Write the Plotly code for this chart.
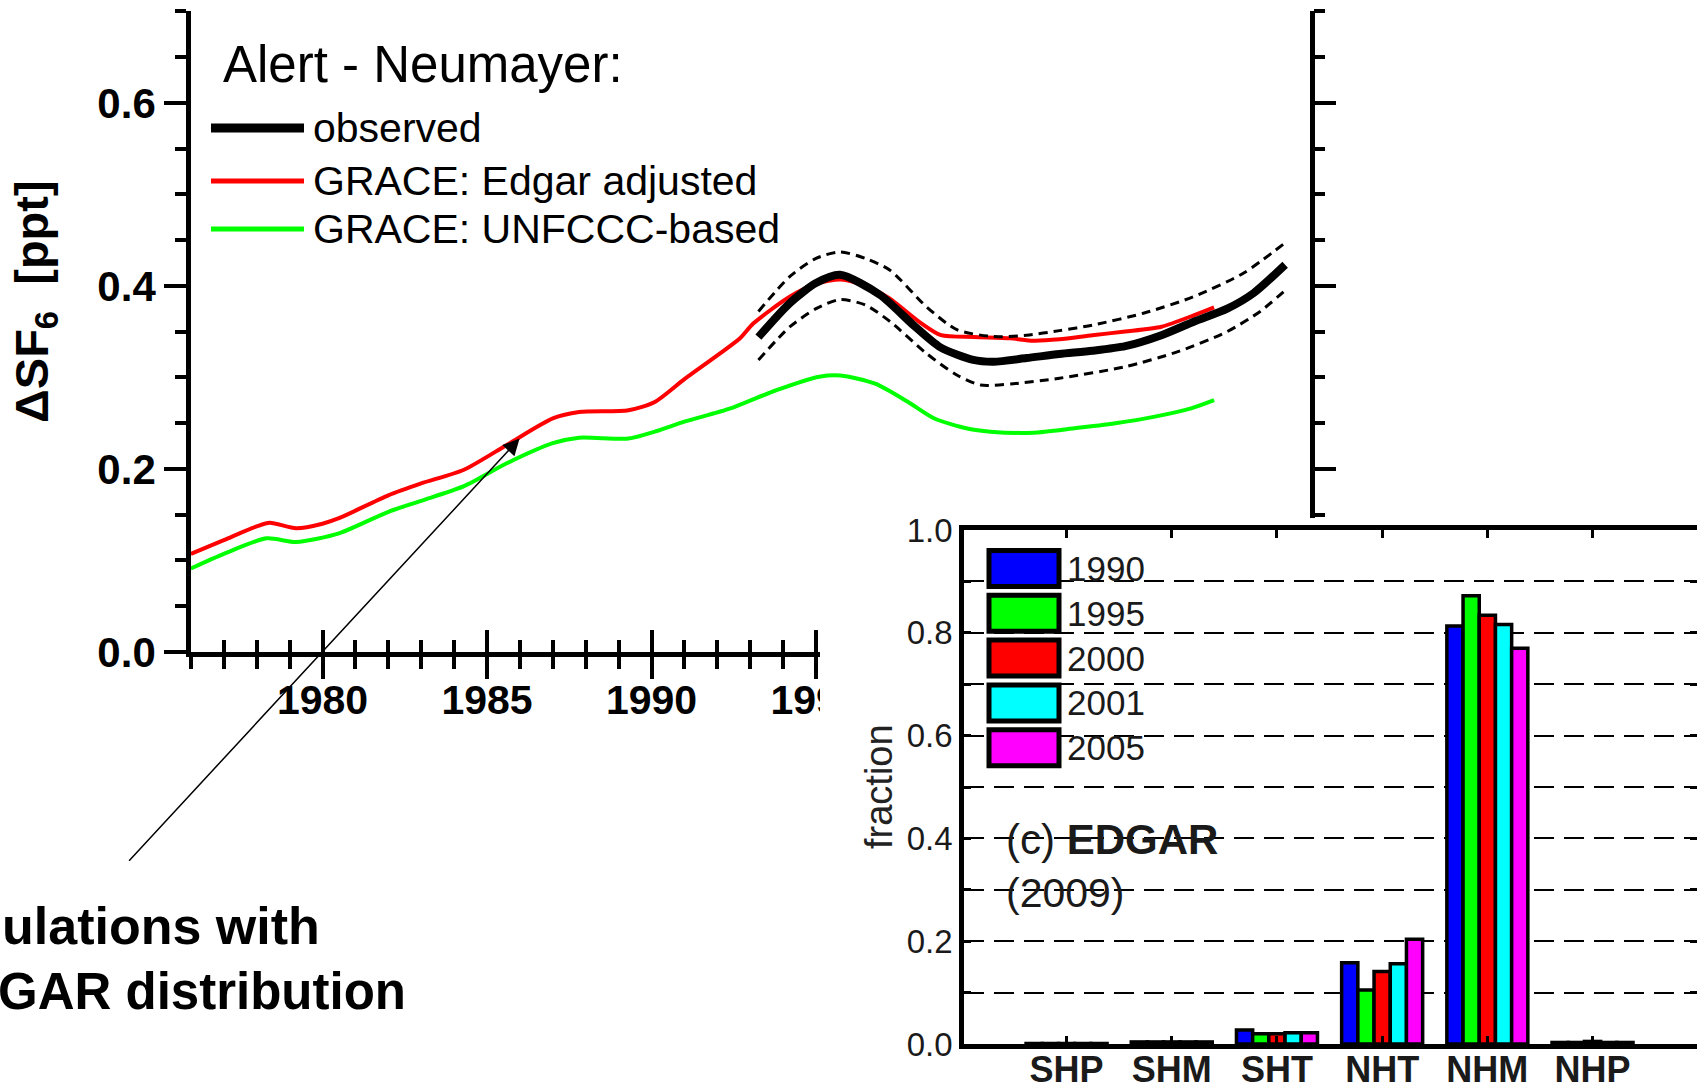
import plotly.graph_objects as go

# ---------------- main chart data (Alert - Neumayer, ΔSF6 [ppt]) ----------------
red_years = [1976, 1977, 1978, 1978.4, 1979.2, 1980, 1980.5, 1982, 1983, 1984.3, 1985.6, 1987,
             1987.8, 1989.3, 1990.1, 1991, 1992, 1992.7, 1993.1, 1994.2, 1995, 1995.75, 1996.5,
             1997.2, 1998.2, 1998.8, 1999.8, 2000.9, 2001.6, 2002.4, 2003.4, 2004.4, 2005.5,
             2006.5, 2007.1]
red_vals = [0.107, 0.122, 0.137, 0.141, 0.135, 0.140, 0.146, 0.171, 0.184, 0.199, 0.226, 0.255,
            0.262, 0.264, 0.273, 0.298, 0.324, 0.343, 0.359, 0.388, 0.402, 0.407, 0.400,
            0.387, 0.359, 0.346, 0.344, 0.3426, 0.340, 0.3415, 0.346, 0.350, 0.3553,
            0.368, 0.3765]

green_years = [1976, 1977, 1978.3, 1979.2, 1980.5, 1982, 1983, 1984.3, 1985.6, 1987, 1987.8,
               1989.3, 1990.1, 1991, 1992.4, 1993.8, 1995.1, 1995.75, 1996.8, 1997.8, 1998.6,
               1999.6, 2000.3, 2001.6, 2002.8, 2004.1, 2005.3, 2006.4, 2007.1]
green_vals = [0.091, 0.107, 0.124, 0.120, 0.1295, 0.153, 0.165, 0.181, 0.206, 0.228, 0.234,
              0.233, 0.2406, 0.2515, 0.266, 0.286, 0.3007, 0.302, 0.293, 0.273, 0.255,
              0.244, 0.2406, 0.2395, 0.244, 0.2497, 0.257, 0.266, 0.275]

obs_years = [1993.25, 1994.2, 1995.0, 1995.73, 1996.95, 1997.96, 1998.77, 1999.78, 2000.4,
             2001.4, 2002.4, 2003.4, 2004.4, 2005.5, 2006.5, 2007.5, 2008.3, 2009.26]
obs_vals = [0.344, 0.381, 0.403, 0.412, 0.390, 0.357, 0.333, 0.319, 0.317,
            0.321, 0.3255, 0.329, 0.334, 0.346, 0.361, 0.375, 0.392, 0.423]

upper_years = [1993.25, 1994.2, 1995.0, 1995.73, 1996.5, 1997.25, 1998.36, 1999.28, 2000.4,
               2001.4, 2002.4, 2003.4, 2004.95, 2006.47, 2008.0, 2009.26]
upper_vals = [0.372, 0.410, 0.430, 0.437, 0.430, 0.417, 0.377, 0.352, 0.3445,
              0.346, 0.351, 0.357, 0.370, 0.388, 0.414, 0.447]

lower_years = [1993.25, 1994.2, 1995.0, 1995.73, 1996.5, 1997.25, 1998.36, 1999.28, 2000.0,
               2001.0, 2002.4, 2004.4, 2006.0, 2007.5, 2008.5, 2009.26]
lower_vals = [0.319, 0.355, 0.375, 0.385, 0.379, 0.361, 0.326, 0.3025, 0.2916,
              0.293, 0.299, 0.3116, 0.328, 0.350, 0.372, 0.395]

legend_title = "Alert - Neumayer:"
series_names = ["observed", "GRACE: Edgar adjusted", "GRACE: UNFCCC-based"]
series_colors = ["#000000", "#ff0000", "#00ff00"]
series_widths = [8, 4, 4]

main_year_ticks = [1980, 1985, 1990, 1995]

# ---------------- inset data (fraction of emissions per latitude band) ----------------
regions = ["SHP", "SHM", "SHT", "NHT", "NHM", "NHP"]
bar_years = ["1990", "1995", "2000", "2001", "2005"]
bar_colors = ["#0000ff", "#00ff00", "#ff0000", "#00ffff", "#ff00ff"]
frac_1990 = [0.001, 0.004, 0.027, 0.158, 0.813, 0.003]
frac_1995 = [0.001, 0.004, 0.020, 0.105, 0.872, 0.003]
frac_2000 = [0.001, 0.004, 0.020, 0.141, 0.834, 0.005]
frac_2001 = [0.001, 0.004, 0.022, 0.156, 0.816, 0.003]
frac_2005 = [0.001, 0.004, 0.022, 0.204, 0.770, 0.003]
fractions = [frac_1990, frac_1995, frac_2000, frac_2001, frac_2005]

W, H = 1697, 1088
def PX(x):
    return x / W
def PY(y):
    return 1 - y / H

FONT = "Arial, 'Liberation Sans', Helvetica, sans-serif"

fig = go.Figure()

# main model curves (xy)
fig.add_trace(go.Scatter(x=red_years, y=red_vals, mode="lines", name=series_names[1],
                         line=dict(color=series_colors[1], width=series_widths[1],
                                   shape="spline", smoothing=0.7),
                         xaxis="x", yaxis="y", showlegend=False))
fig.add_trace(go.Scatter(x=green_years, y=green_vals, mode="lines", name=series_names[2],
                         line=dict(color=series_colors[2], width=series_widths[2],
                                   shape="spline", smoothing=0.7),
                         xaxis="x", yaxis="y", showlegend=False))
# observations with uncertainty band (x2 overlay, same range)
fig.add_trace(go.Scatter(x=upper_years, y=upper_vals, mode="lines", name="upper",
                         line=dict(color="black", width=3, dash="9px,6px",
                                   shape="spline", smoothing=0.7),
                         xaxis="x2", yaxis="y", showlegend=False))
fig.add_trace(go.Scatter(x=lower_years, y=lower_vals, mode="lines", name="lower",
                         line=dict(color="black", width=3, dash="9px,6px",
                                   shape="spline", smoothing=0.7),
                         xaxis="x2", yaxis="y", showlegend=False))
fig.add_trace(go.Scatter(x=obs_years, y=obs_vals, mode="lines", name=series_names[0],
                         line=dict(color=series_colors[0], width=series_widths[0],
                                   shape="spline", smoothing=0.7),
                         xaxis="x2", yaxis="y", showlegend=False))

# empty panel subplot (white background that hides the part of the main chart under the inset)
fig.add_trace(go.Scatter(x=[], y=[], xaxis="x3", yaxis="y3", showlegend=False,
                         hoverinfo="skip"))

# inset bars
for yr, col, vals in zip(bar_years, bar_colors, fractions):
    fig.add_trace(go.Bar(x=regions, y=vals, name=yr, xaxis="x4", yaxis="y4",
                         marker=dict(color=col, line=dict(color="black", width=3.5)),
                         showlegend=False))

axis_black = dict(showgrid=False, zeroline=False, linecolor="black", tickcolor="black",
                  automargin=False)

fig.update_layout(
    template="none",
    width=W, height=H,
    margin=dict(l=0, r=0, t=0, b=0, pad=0, autoexpand=False),
    paper_bgcolor="white", plot_bgcolor="white",
    showlegend=False,
    barmode="group", bargap=0.23, bargroupgap=0.0,
    font=dict(family=FONT, color="black"),
    xaxis=dict(domain=[PX(190.9), PX(1309.5)], range=[1976, 2010], anchor="y",
               showline=True, linewidth=4.5, ticks="outside",
               tickmode="array", tickvals=main_year_ticks,
               ticklen=22, tickwidth=4, tickformat="d", ticklabelstandoff=-14,
               tickfont=dict(size=41, family=FONT, weight="bold"),
               minor=dict(dtick=1, tick0=1976, ticks="outside", ticklen=12, tickwidth=4,
                          tickcolor="black", showgrid=False),
               **axis_black),
    xaxis2=dict(overlaying="x", anchor="y", range=[1976, 2010], showline=False,
                ticks="inside", tickmode="array", tickvals=main_year_ticks,
                ticklen=22, tickwidth=4, showticklabels=False,
                minor=dict(dtick=1, tick0=1976, ticks="inside", ticklen=12, tickwidth=4,
                           tickcolor="black", showgrid=False),
                **axis_black),
    yaxis=dict(domain=[PY(651.8), PY(11.3)], range=[0, 0.7], anchor="x",
               showline=True, linewidth=4.5, mirror="ticks", ticks="outside",
               tick0=0, dtick=0.2, ticklen=22, tickwidth=4, tickformat=".1f",
               tickfont=dict(size=42, family=FONT, weight="bold"),
               minor=dict(dtick=0.05, tick0=0, ticks="outside", ticklen=11, tickwidth=4,
                          tickcolor="black", showgrid=False),
               **axis_black),
    xaxis3=dict(domain=[PX(820), 1], anchor="y3", visible=False, range=[0, 1],
                automargin=False),
    yaxis3=dict(domain=[0, PY(518)], anchor="x3", visible=False, range=[0, 1],
                automargin=False),
    xaxis4=dict(domain=[PX(964), 1], anchor="y4", type="category",
                categoryorder="array", categoryarray=regions,
                range=[-0.975, 5.993], showline=True, linewidth=4.5, mirror="ticks",
                ticks="inside", ticklen=8, tickwidth=3, ticklabelstandoff=-10,
                tickfont=dict(size=36, family=FONT, weight="bold", color="#1a1a1a"),
                **axis_black),
    yaxis4=dict(domain=[PY(1044), PY(530)], anchor="x4", range=[0, 1.0],
                showline=True, linewidth=4.5, mirror="ticks", linecolor="black",
                ticks="inside", tick0=0, dtick=0.2, ticklen=7, tickwidth=3,
                tickcolor="black", tickformat=".1f",
                tickfont=dict(size=33, family=FONT, color="#1a1a1a"),
                showgrid=True, gridcolor="black", gridwidth=2, griddash="20px,10px",
                zeroline=False, automargin=False,
                minor=dict(dtick=0.1, tick0=0, ticks="inside", ticklen=7, tickwidth=3,
                           tickcolor="black", showgrid=True, gridcolor="black",
                           gridwidth=2, griddash="20px,10px")),
)

shapes = []
annotations = []

# main legend (drawn manually with long line samples)
annotations.append(dict(xref="paper", yref="paper", x=PX(221), y=PY(64), xanchor="left",
                        yanchor="middle", text=legend_title, showarrow=False,
                        font=dict(size=51, family=FONT, color="black")))
legend_rows = [128, 181, 229]
for name, col, wd, yy in zip(series_names, series_colors, series_widths, legend_rows):
    shapes.append(dict(type="line", xref="paper", yref="paper", x0=PX(211), x1=PX(304),
                       y0=PY(yy), y1=PY(yy), line=dict(color=col, width=wd + 1),
                       layer="above"))
    annotations.append(dict(xref="paper", yref="paper", x=PX(311), y=PY(yy), xanchor="left",
                            yanchor="middle", text=name, showarrow=False,
                            font=dict(size=41, family=FONT, color="black")))

# y-axis title of main chart
annotations.append(dict(xref="paper", yref="paper", x=PX(35), y=PY(302), xanchor="center",
                        yanchor="middle", textangle=-90,
                        text="ΔSF<sub>6</sub>  [ppt]", showarrow=False,
                        font=dict(size=47, family=FONT, weight="bold", color="black")))

# arrow pointing at the Edgar curve
annotations.append(dict(xref="x", yref="y", x=1985.99, y=0.233, axref="x", ayref="y",
                        ax=1974.08, ay=-0.230, text="", showarrow=True, arrowhead=2,
                        arrowsize=2.2, arrowwidth=1.5, arrowcolor="black", standoff=0))

# cut-off annotation text bottom-left
annotations.append(dict(xref="paper", yref="paper", x=PX(0), y=PY(926), xanchor="left",
                        yanchor="middle", text="<b>ulations with</b>", showarrow=False,
                        font=dict(size=52, family=FONT, color="black")))
annotations.append(dict(xref="paper", yref="paper", x=PX(-4), y=PY(991), xanchor="left",
                        yanchor="middle", text="<b>GAR distribution</b>", showarrow=False,
                        font=dict(size=51, family=FONT, color="black")))

# inset y title
annotations.append(dict(xref="paper", yref="paper", x=PX(879), y=PY(787), xanchor="center",
                        yanchor="middle", textangle=-90, text="fraction", showarrow=False,
                        font=dict(size=38, family=FONT, color="#222222")))

# inset legend (large boxes)
box_top0, box_pitch, box_h = 550.5, 44.8, 36
for i, (yr, col) in enumerate(zip(bar_years, bar_colors)):
    top = box_top0 + i * box_pitch
    shapes.append(dict(type="rect", xref="paper", yref="paper", x0=PX(989), x1=PX(1059),
                       y0=PY(top + box_h), y1=PY(top), fillcolor=col,
                       line=dict(color="black", width=5), layer="above"))
    annotations.append(dict(xref="paper", yref="paper", x=PX(1065), y=PY(top + box_h / 2),
                            xanchor="left", yanchor="middle", text=yr, showarrow=False,
                            font=dict(size=35, family=FONT, color="#1a1a1a")))

# inset panel label
annotations.append(dict(xref="paper", yref="paper", x=PX(1004), y=PY(839), xanchor="left",
                        yanchor="middle", text="(c) <b>EDGAR</b>", showarrow=False,
                        font=dict(size=42, family=FONT, color="#1a1a1a")))
annotations.append(dict(xref="paper", yref="paper", x=PX(1004), y=PY(893), xanchor="left",
                        yanchor="middle", text="(2009)", showarrow=False,
                        font=dict(size=41, family=FONT, color="#1a1a1a")))

fig.update_layout(shapes=shapes, annotations=annotations)

fig.write_html("out.html")
